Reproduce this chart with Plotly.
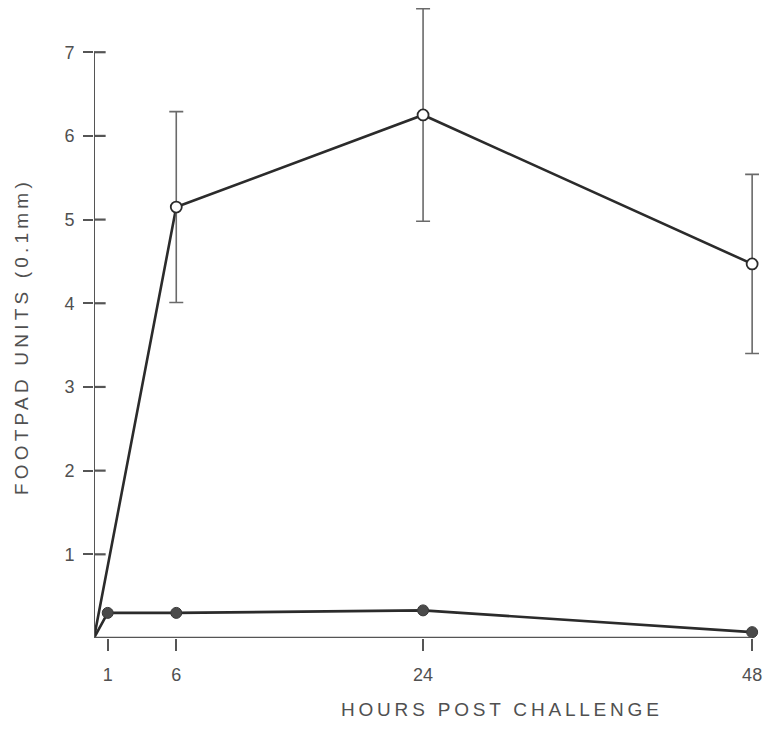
import plotly.graph_objects as go

# Data
hours_open = [0, 6, 24, 48]
footpad_open = [0, 5.15, 6.25, 4.47]
err_open = [0, 1.14, 1.27, 1.07]

hours_filled = [0, 1, 6, 24, 48]
footpad_filled = [0, 0.30, 0.30, 0.33, 0.07]

x_ticks = [1, 6, 24, 48]
x_ticktext = ["1", "6", "24", "48"]
y_ticks = [1, 2, 3, 4, 5, 6, 7]

LINE = "#2b2b2b"
AX = "#555555"
TXT = "#505050"

fig = go.Figure()

# connecting lines (including origin)
fig.add_trace(go.Scatter(x=hours_open, y=footpad_open, mode="lines",
                         line=dict(color=LINE, width=2.6), showlegend=False, hoverinfo="skip"))
fig.add_trace(go.Scatter(x=hours_filled, y=footpad_filled, mode="lines",
                         line=dict(color=LINE, width=2.6), showlegend=False, hoverinfo="skip"))

# open circles with error bars
fig.add_trace(go.Scatter(x=hours_open[1:], y=footpad_open[1:], mode="markers",
                         marker=dict(symbol="circle", size=11, color="white",
                                     line=dict(color=LINE, width=1.8)),
                         error_y=dict(type="data", array=err_open[1:], visible=True,
                                      color="#6a6a6a", thickness=1.6, width=7),
                         cliponaxis=False, showlegend=False))
# filled circles
fig.add_trace(go.Scatter(x=hours_filled[1:], y=footpad_filled[1:], mode="markers",
                         marker=dict(symbol="circle", size=11, color="#4a4a4a",
                                     line=dict(color="#3a3a3a", width=1)),
                         cliponaxis=False, showlegend=False))

shapes = [
    dict(type="line", xref="x", yref="y", x0=0, x1=0, y0=0, y1=7,
         line=dict(color=AX, width=2)),
    dict(type="line", xref="x", yref="y", x0=0, x1=48, y0=0, y1=0,
         line=dict(color=AX, width=2.4)),
]
# inner half of the y ticks (crossing ticks)
for v in y_ticks:
    shapes.append(dict(type="line", xref="x", yref="y", x0=0, x1=0.85, y0=v, y1=v,
                       line=dict(color=AX, width=2.2)))

pw = 769 - 94 - 10
ph = 730 - 2 - 92

fig.update_layout(
    width=769, height=730,
    margin=dict(l=94, r=10, t=2, b=92),
    paper_bgcolor="white", plot_bgcolor="white",
    shapes=shapes,
    font=dict(family="Liberation Sans, Arial, sans-serif", color=TXT),
    xaxis=dict(range=[0, 48.5], tickvals=x_ticks, ticktext=x_ticktext,
               ticks="outside", ticklen=12, tickwidth=1.6, tickcolor=AX,
               showgrid=False, zeroline=False, showline=False,
               tickfont=dict(size=18, color=TXT), ticklabelstandoff=8),
    yaxis=dict(range=[0, 7.6], tickvals=y_ticks,
               ticks="outside", ticklen=10, tickwidth=2.2, tickcolor=AX,
               showgrid=False, zeroline=False, showline=False,
               tickfont=dict(size=18, color=TXT), ticklabelstandoff=5),
    annotations=[
        dict(text='<span style="letter-spacing:3.8px">HOURS POST CHALLENGE</span>',
             xref="paper", yref="paper", x=(502 - 94) / pw, y=(638 - 709) / ph,
             xanchor="center", yanchor="middle",
             showarrow=False, font=dict(size=19, color=TXT)),
        dict(text='<span style="letter-spacing:4.2px">FOOTPAD UNITS (0.1mm)</span>',
             xref="paper", yref="paper", x=(22 - 94) / pw, y=(638 - 337) / ph,
             xanchor="center", yanchor="middle", textangle=-90,
             showarrow=False, font=dict(size=19, color=TXT)),
    ],
)

fig.write_html("out.html")
